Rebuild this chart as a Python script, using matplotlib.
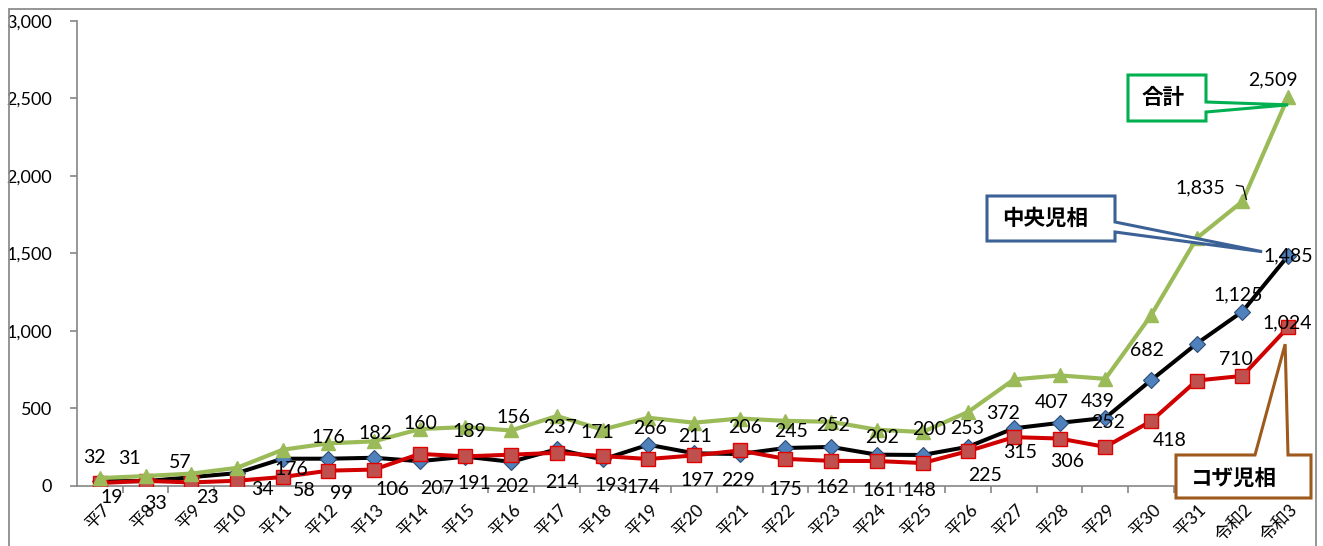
import matplotlib
matplotlib.use("Agg")
import matplotlib.pyplot as plt
from matplotlib.patches import Polygon, Rectangle
from matplotlib.lines import Line2D
from matplotlib.ticker import FuncFormatter
import matplotlib.transforms as mtransforms

plt.rcParams['font.family'] = ['Lato', 'Noto Sans CJK JP', 'DejaVu Sans']

# ---------------- data ----------------
categories = ['平7', '平8', '平9', '平10', '平11', '平12', '平13', '平14', '平15', '平16',
              '平17', '平18', '平19', '平20', '平21', '平22', '平23', '平24', '平25', '平26',
              '平27', '平28', '平29', '平30', '平31', '令和2', '令和3']
chuo = [32, 31, 57, 83, 176, 176, 182, 160, 189, 156, 237, 171, 266, 211, 206, 245, 252,
        202, 200, 253, 372, 407, 439, 682, 918, 1125, 1485]
koza = [19, 33, 23, 34, 58, 99, 106, 207, 191, 202, 214, 193, 174, 197, 229, 175, 162,
        161, 148, 225, 315, 306, 252, 418, 680, 710, 1024]
total = [32 + 19, 31 + 33, 57 + 23, 83 + 34, 176 + 58, 176 + 99, 182 + 106, 160 + 207,
         189 + 191, 156 + 202, 237 + 214, 171 + 193, 266 + 174, 211 + 197, 206 + 229,
         245 + 175, 252 + 162, 202 + 161, 200 + 148, 253 + 225, 372 + 315, 407 + 306,
         439 + 252, 682 + 418, 918 + 680, 1835, 2509]
series_names = ['中央児相', 'コザ児相', '合計']
y_ticks = [0, 500, 1000, 1500, 2000, 2500, 3000]

# which labels are shown (None = hidden) and their pixel offsets (style only)
chuo_label_off = [(-5, 24), (-16, 23), (-11, 15), None, (9, -11), (0, 21), (1, 24), (1, 38),
                  (4, 25), (2, 44), (3, 22), (-5, 27), (2, 16), (1, 17), (5, 27), (6, 17),
                  (2, 21), (5, 17), (7, 25), (-1, 18), (-11, 15), (-8, 20), (-8, 16),
                  (-4, 30), None, (-4, 17), (0, 0)]
koza_label_off = [(12, -14), (10, -23), (16, -15), (25, -9), (22, -13), (13, -23), (18, -20),
                  (17, -35), (9, -27), (1, -32), (5, -30), (9, -29), (-5, -28), (3, -25),
                  (-2, -30), (0, -31), (1, -27), (3, -29), (-3, -27), (17, -24), (6, -15),
                  (7, -23), (3, 24), (19, -19), None, (-7, 16), (-1, 4)]
total_label_off = {25: (-42, 14), 26: (-15, 17)}

W, H = 1323, 546
fig = plt.figure(figsize=(W / 100, H / 100), dpi=100)
ax = fig.add_axes([77 / W, 1 - 486 / H, (1311 - 77) / W, (486 - 20.7) / H])

x = list(range(len(categories)))
gray = '#868686'

ax.plot(x, chuo, color='black', lw=2.9, marker='D', markersize=8,
        markerfacecolor='#4f81bd', markeredgecolor='#2c4d75', markeredgewidth=0.8,
        zorder=3, label=series_names[0])
ax.plot(x, koza, color='#d00000', lw=2.9, marker='s', markersize=10,
        markerfacecolor='#c0504d', markeredgecolor='#e00000', markeredgewidth=1.0,
        zorder=4, label=series_names[1])
ax.plot(x, total, color='#9bbb59', lw=3.0, marker='^', markersize=10.5,
        markerfacecolor='#9bbb59', markeredgecolor='#9bbb59',
        zorder=5, label=series_names[2])

ax.set_xlim(-0.5, len(categories) - 0.5)
ax.set_ylim(0, 3000)

# axes styling
for s in ['top', 'right']:
    ax.spines[s].set_visible(False)
for s in ['left', 'bottom']:
    ax.spines[s].set_color(gray)
    ax.spines[s].set_linewidth(1.2)

ax.set_yticks(y_ticks)
ax.yaxis.set_major_formatter(FuncFormatter(lambda v, p: f'{int(v):,}'))
ax.tick_params(axis='y', direction='out', length=5, width=1.2, color=gray,
               labelsize=13, pad=13)

ax.set_xticks(x)
ax.set_xticklabels(categories)
ax.set_xticks([i + 0.5 for i in x], minor=True)
ax.tick_params(axis='x', which='major', length=0, labelsize=12.5, pad=15)
ax.tick_params(axis='x', which='minor', direction='out', length=5, width=1.2, color=gray)
offset = mtransforms.ScaledTranslation(7 / 100, 0, fig.dpi_scale_trans)
for lab in ax.get_xticklabels():
    lab.set_rotation(45)
    lab.set_ha('right')
    lab.set_va('center')
    lab.set_rotation_mode('anchor')
    lab.set_transform(lab.get_transform() + offset)

# data labels
fs = 14
for i, v in enumerate(chuo):
    off = chuo_label_off[i]
    if off is None:
        continue
    ax.annotate(f'{v:,}', xy=(i, v), xytext=off, textcoords='offset pixels',
                ha='center', va='center', fontsize=fs, zorder=6)
for i, v in enumerate(koza):
    off = koza_label_off[i]
    if off is None:
        continue
    ax.annotate(f'{v:,}', xy=(i, v), xytext=off, textcoords='offset pixels',
                ha='center', va='center', fontsize=fs, zorder=6)
for i, off in total_label_off.items():
    ax.annotate(f'{total[i]:,}', xy=(i, total[i]), xytext=off, textcoords='offset pixels',
                ha='center', va='center', fontsize=fs, zorder=6)

fig.canvas.draw()


def data_px(i, v):
    """display pixel (origin top-left) of a data point"""
    px, py = ax.transData.transform((i, v))
    return px, H - py


def to_fig(pts):
    return [(px / W, 1 - py / H) for px, py in pts]


# leader line for 1,835
gx, gy = data_px(25, total[25])
lead = [(gx - 6, gy - 16), (gx + 0.5, gy - 15), (gx + 4, gy - 2)]
fig.add_artist(Line2D([p[0] for p in to_fig(lead)], [p[1] for p in to_fig(lead)],
                      transform=fig.transFigure, color='black', lw=0.9))

# callouts
tx, ty = data_px(26, total[26])
tip_total = (tx, ty + 8)
cx, cy = data_px(26, chuo[26])
tip_chuo = (cx - 26, cy - 4)
kx, ky = data_px(26, koza[26])
tip_koza = (kx - 3, ky + 17)

callouts = [
    ('合計', '#00b050',
     [(1128, 75), (1206, 75), (1206, 102), tip_total, (1206, 112), (1206, 121), (1128, 121)],
     (1163, 98)),
    ('中央児相', '#3c6196',
     [(987, 196), (1115, 196), (1115, 222), tip_chuo, (1115, 232), (1115, 241), (987, 241)],
     (1045, 218)),
    ('コザ児相', '#9e5a1c',
     [(1176, 455), (1255, 455), tip_koza, (1288, 455), (1311, 455), (1311, 498), (1176, 498)],
     (1234, 478)),
]
for text, col, pts, (tcx, tcy) in callouts:
    poly = Polygon(to_fig(pts), closed=True, transform=fig.transFigure,
                   facecolor='white', edgecolor=col, lw=2.2, zorder=10)
    fig.add_artist(poly)
    fig.text(tcx / W, 1 - tcy / H, text, ha='center', va='center', fontsize=15.5,
             fontweight='bold', family=['Noto Sans CJK JP', 'DejaVu Sans'], zorder=11)

# outer chart border
fig.add_artist(Rectangle((9 / W, -0.2), (1316 - 9) / W, 1.2 - 9 / H,
                         transform=fig.transFigure, fill=False, edgecolor='#8c8c8c',
                         lw=1.3, clip_on=False, zorder=12))

fig.savefig('out.png', dpi=100)
